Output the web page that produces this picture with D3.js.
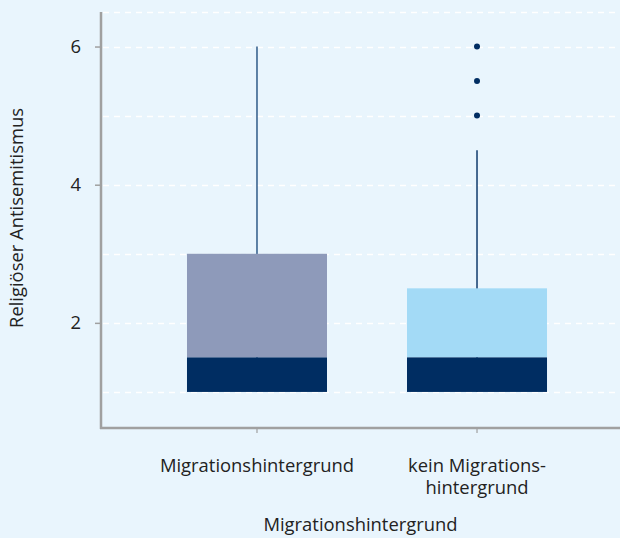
<!DOCTYPE html>
<html><head><meta charset="utf-8">
<script src="https://cdn.jsdelivr.net/npm/d3@7"></script>
<style>html,body{margin:0;padding:0;background:#e9f5fd;}svg{display:block;font-family:"Open Sans",sans-serif;}</style>
</head><body><svg id="c" width="620" height="538"></svg>
<script>
const categories = ["Migrationshintergrund", "kein Migrations-\nhintergrund"];
const whiskerLow = [1, 1];
const q1 = [1, 1];
const median = [1.5, 1.5];
const q3 = [3, 2.5];
const whiskerHigh = [6, 4.5];
const outliers = [[], [5, 5.5, 6]];
const upperColors = ["#8e9aba", "#a3daf6"];
const yTicks = [2, 4, 6];
const gridValues = [1, 2, 3, 4, 5, 6, 6.5];
const yTitle = "Religiöser Antisemitismus";
const xTitle = "Migrationshintergrund";

(function () {
const svg = d3.select("#c");
const mLeft = 101, mTop = 12, mBottom = 428;
const fs = "18.4px";
const y = d3.scaleLinear().domain([0.478, 6.5]).range([mBottom, mTop]);
const x = d3.scaleBand().domain(categories).range([101, 633]).paddingInner(0).paddingOuter(0.209);
const boxW = x.bandwidth() * 140 / 220;

svg.append("g").selectAll("line").data(gridValues).join("line")
  .attr("x1", mLeft + 2).attr("x2", 620)
  .attr("y1", d => Math.round(y(d)) + 0.5).attr("y2", d => Math.round(y(d)) + 0.5)
  .attr("stroke", "#ffffff").attr("stroke-width", 1.5).attr("stroke-dasharray", "6,5");

const g = svg.append("g");
categories.forEach((c, i) => {
  const cx = x(c) + x.bandwidth() / 2;
  g.append("line").attr("x1", cx).attr("x2", cx)
    .attr("y1", y(whiskerHigh[i])).attr("y2", y(whiskerLow[i]))
    .attr("stroke", i === 0 ? "#2f5a88" : "#0f3a6c").attr("stroke-width", 1.5);
  g.append("rect").attr("x", cx - boxW / 2).attr("width", boxW)
    .attr("y", y(q3[i])).attr("height", y(median[i]) - y(q3[i]))
    .attr("fill", upperColors[i]);
  g.append("rect").attr("x", cx - boxW / 2).attr("width", boxW)
    .attr("y", y(median[i])).attr("height", y(q1[i]) - y(median[i]))
    .attr("fill", "#002d62");
  g.selectAll(null).data(outliers[i]).join("circle")
    .attr("cx", cx).attr("cy", d => y(d)).attr("r", 3).attr("fill", "#002d62");
});

const ya = svg.append("g").attr("transform", `translate(${mLeft},0)`)
  .call(d3.axisLeft(y).tickValues(yTicks).tickSize(6).tickPadding(14).tickFormat(d3.format("d")));
ya.select(".domain").remove();
ya.selectAll(".tick line").attr("stroke", "#a0a0a0").attr("stroke-width", 1.5);
ya.selectAll(".tick text").attr("fill", "#222").style("font-size", fs).style("font-family", "Open Sans");
svg.append("line").attr("x1", mLeft).attr("x2", mLeft).attr("y1", mTop).attr("y2", mBottom + 1)
  .attr("stroke", "#a0a0a0").attr("stroke-width", 2.5);

const xa = svg.append("g").attr("transform", `translate(0,${mBottom})`)
  .call(d3.axisBottom(x).tickSize(5).tickFormat(""));
xa.select(".domain").remove();
xa.selectAll(".tick line").attr("stroke", "#a0a0a0").attr("stroke-width", 1.2);
svg.append("line").attr("x1", mLeft - 1).attr("x2", 620).attr("y1", mBottom).attr("y2", mBottom)
  .attr("stroke", "#a0a0a0").attr("stroke-width", 2.5);

categories.forEach(c => {
  const cx = x(c) + x.bandwidth() / 2;
  const lines = c.split("\n");
  const t = svg.append("text").attr("x", cx).attr("y", 472).attr("text-anchor", "middle")
    .attr("fill", "#222").style("font-size", fs);
  lines.forEach((l, j) => t.append("tspan").attr("x", cx).attr("dy", j ? 22 : 0).text(l));
});

svg.append("text").attr("x", 360.5).attr("y", 531).attr("text-anchor", "middle")
  .attr("fill", "#222").style("font-size", fs).text(xTitle);
svg.append("text").attr("transform", "translate(23,218) rotate(-90)").attr("text-anchor", "middle")
  .attr("fill", "#222").style("font-size", fs).text(yTitle);
})();
</script></body></html>
